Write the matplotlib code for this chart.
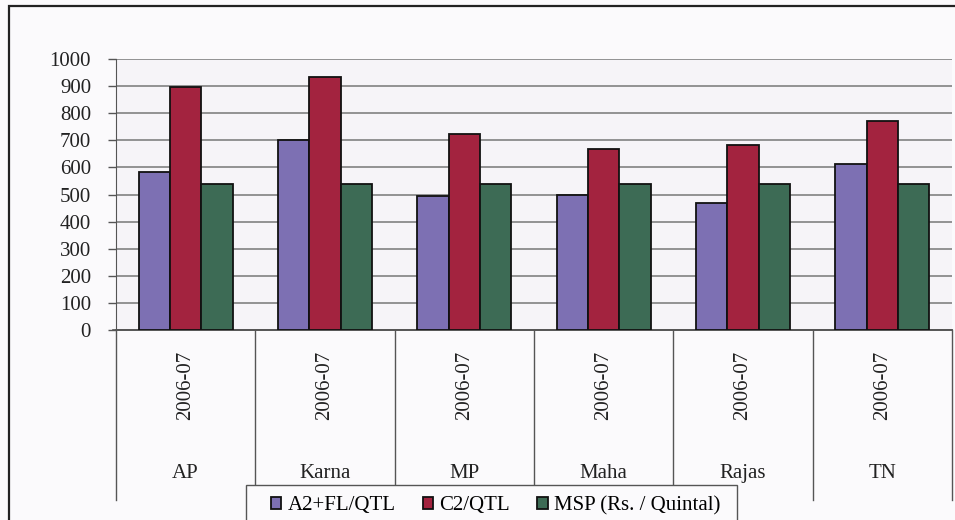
import matplotlib.pyplot as plt
import matplotlib.transforms as mtransforms
from matplotlib.patches import Rectangle
import numpy as np

# Cost of cultivation vs MSP, 2006-07
states = ['AP', 'Karna', 'MP', 'Maha', 'Rajas', 'TN']
year = '2006-07'
a2_fl = [583, 701, 495, 498, 469, 612]
c2 = [897, 934, 723, 668, 683, 771]
msp = [540, 540, 540, 540, 540, 540]
series_names = ['A2+FL/QTL', 'C2/QTL', 'MSP (Rs. / Quintal)']
colors = ['#7d70b3', '#a3233f', '#3d6b55']

plt.rcParams['font.family'] = ['Liberation Serif', 'DejaVu Serif']

fig = plt.figure(figsize=(9.55, 5.2), dpi=100)
fig.patch.set_facecolor('#fbfafc')

# outer frame of the chart
fig.patches.append(Rectangle((9 / 955, -0.1), 1.0, 1 - 6 / 520 + 0.1,
                             transform=fig.transFigure, fill=False,
                             edgecolor='#222222', lw=1.6, zorder=0))

ax = fig.add_axes([116 / 955, 1 - 330 / 520, (952 - 116) / 955, (330 - 59) / 520])
ax.set_facecolor('#f6f4f8')

x = np.arange(len(states))
w = 0.225
for i, (vals, name, col) in enumerate(zip([a2_fl, c2, msp], series_names, colors)):
    ax.bar(x + (i - 1) * w, vals, width=w, color=col, edgecolor='#111111',
           linewidth=1.3, label=name, zorder=3)

ax.set_xlim(-0.5, len(states) - 0.5)
ax.set_ylim(0, 1000)
ax.set_yticks(range(0, 1001, 100))
ax.yaxis.grid(True, color='#777777', linewidth=1.1, zorder=0)
ax.set_xticks([])
ax.tick_params(axis='y', labelsize=15, length=6, width=1.0, color='#555555',
               pad=12, labelcolor='#222222')

for side in ['top', 'right']:
    ax.spines[side].set_visible(False)
ax.spines['left'].set_color('#555555')
ax.spines['bottom'].set_color('#555555')
ax.spines['bottom'].set_linewidth(1.2)

# two level category axis
trans = mtransforms.blended_transform_factory(ax.transData, ax.transAxes)
for b in np.arange(-0.5, len(states), 1.0):
    ax.plot([b, b], [0, -0.627], transform=trans, color='#555555', lw=1.0,
            clip_on=False)
ax.plot([-0.52, len(states) - 0.5], [0, 0], transform=trans, color='#555555',
        lw=1.2, clip_on=False)
for xi, st in zip(x, states):
    ax.text(xi, -0.205, year, transform=trans, rotation=90, ha='center',
            va='center', fontsize=15, color='#222222')
    ax.text(xi, -0.53, st, transform=trans, ha='center', va='center',
            fontsize=15, color='#222222')

# legend box (bottom runs off the picture)
fig.patches.append(Rectangle((246 / 955, -0.05), (737 - 246) / 955, 0.05 + 1 - 485 / 520,
                             transform=fig.transFigure, facecolor='#fbfafc',
                             edgecolor='#555555', lw=1.0, zorder=9))
leg = fig.legend(loc='upper left', bbox_to_anchor=(271 / 955, 1 - 496 / 520),
                 ncol=3, fontsize=15, frameon=False,
                 handlelength=0.5, handleheight=0.5, handletextpad=0.3,
                 columnspacing=1.3, borderaxespad=0, borderpad=0)
leg.set_zorder(10)

fig.savefig('out.png', dpi=100, facecolor=fig.get_facecolor())
